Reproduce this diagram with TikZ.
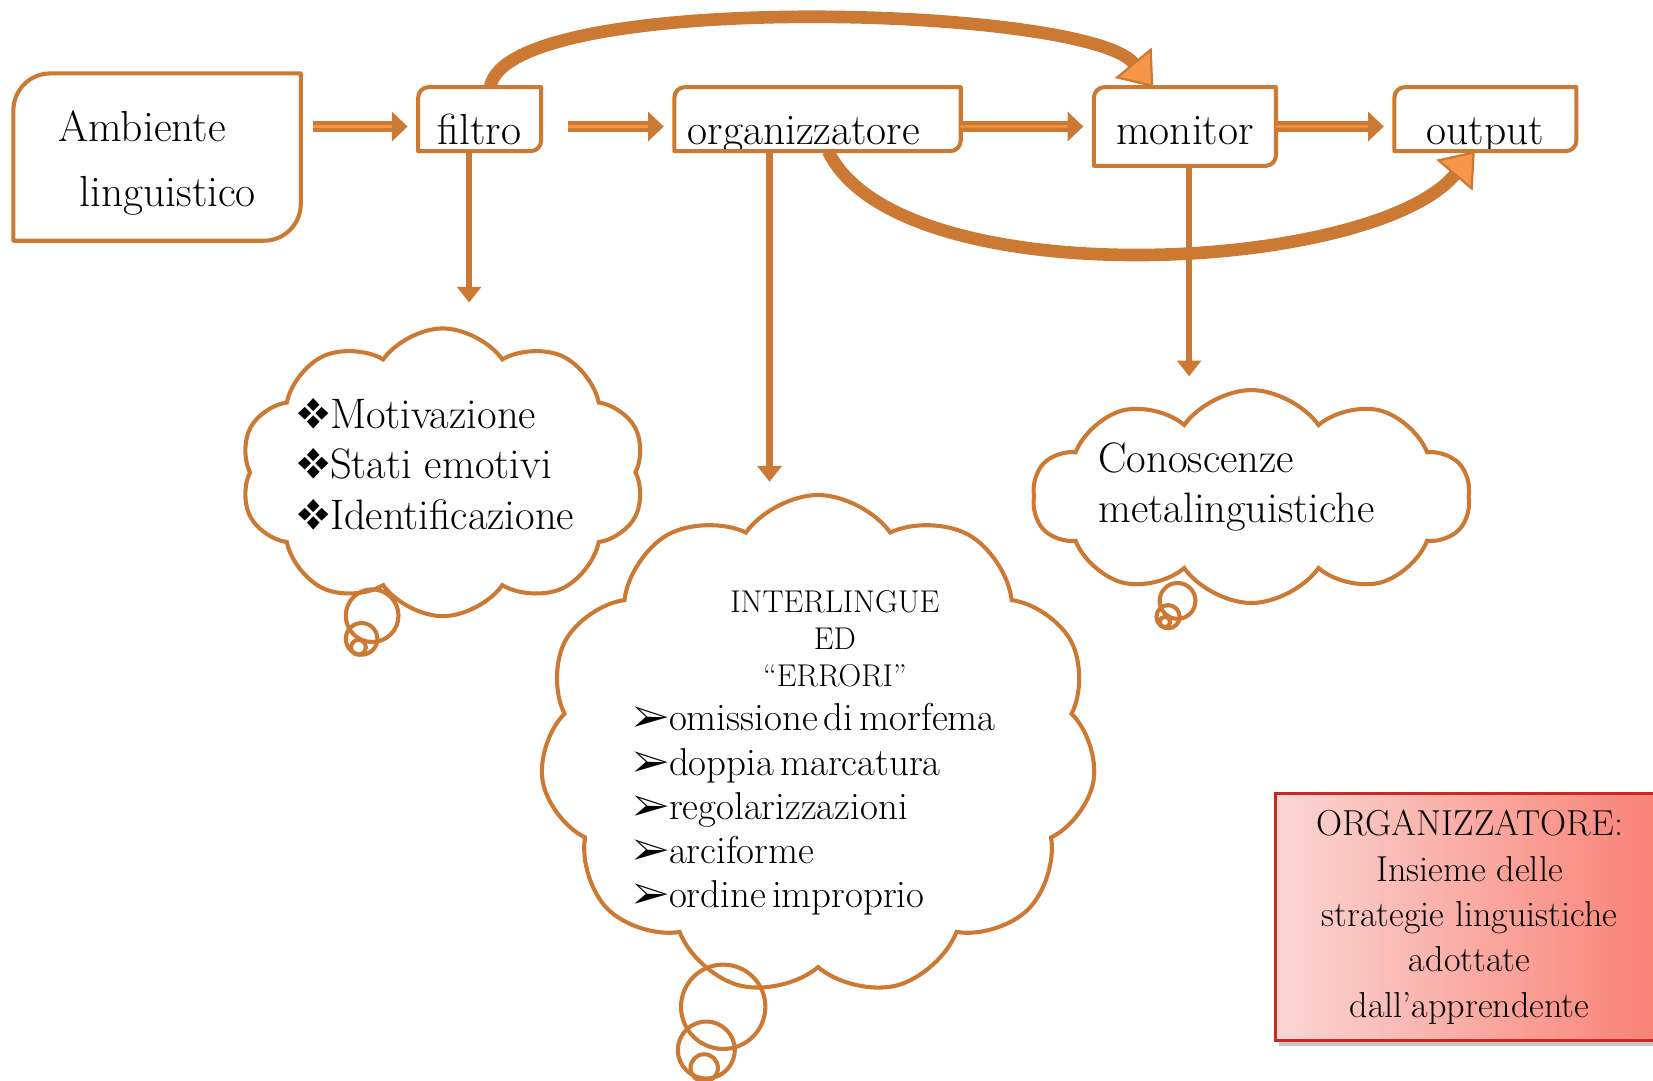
\documentclass[tikz,border=0pt]{standalone}
\usepackage{fontspec}
\usepackage{pifont}
\usetikzlibrary{arrows.meta,positioning,shapes.symbols,shadows}
\definecolor{boxorange}{RGB}{204,121,52}
\definecolor{lightorange}{RGB}{247,150,70}
\definecolor{redline}{RGB}{196,44,32}
\definecolor{pinkleft}{RGB}{251,214,212}
\definecolor{salmonright}{RGB}{248,128,116}
\tikzset{
  boxline/.style={draw=boxorange, line width=2.2pt, line join=round},
  stage/.style={inner sep=0pt, text height=1.08cm, text depth=0.12cm, minimum height=1.2cm,
    font=\fontsize{23.5}{28}\selectfont},
  flow/.style={draw=boxorange, line width=0.2cm, -{Triangle[length=0.3cm,width=0.55cm]},
    shorten <=0.24cm, shorten >=0.2cm,
    postaction={draw=lightorange, line width=1.2pt, -, shorten >=0.5cm}},
  dropline/.style={draw=boxorange, line width=0.12cm, -{Triangle[length=0.3cm,width=0.45cm]}},
  arcarrow/.style={draw=boxorange, line width=0.24cm,
    -{Triangle[length=0.6cm,width=0.9cm,fill=lightorange,line width=1.2pt]}},
  thought/.style={cloud, cloud puff arc=110, cloud ignores aspect, draw=boxorange,
    line width=2.2pt, inner sep=0pt},
  bubble/.style={draw=boxorange, line width=2.2pt},
  defbox/.style={draw=redline, line width=1.5pt, left color=pinkleft, right color=salmonright,
    align=center, font=\fontsize{19.5}{24.5}\selectfont,
    drop shadow={opacity=0.45, shadow xshift=0.06cm, shadow yshift=-0.1cm}}
}
\newcommand{\stageframe}[2]{\draw[boxline] (#1.south west) -- ([yshift=-#2]#1.north west)
  arc[start angle=180,end angle=90,radius=#2] -- (#1.north east) -- ([yshift=#2]#1.south east)
  arc[start angle=0,end angle=-90,radius=#2] -- cycle;}

\begin{document}
\begin{tikzpicture}[x=0.02cm,y=0.02cm]
\useasboundingbox (0,0) rectangle (1568,-1025);

\node[inner sep=0pt, minimum width=5.44cm, minimum height=3.16cm, align=left,
  font=\fontsize{23.5}{35}\selectfont] (amb) at (149,-149)
  {\rule{0pt}{0.8cm}Ambiente\\\hspace*{0.4cm}linguistico};
\node[stage, minimum width=2.32cm] (filtro) at (455,-113) {filtro};
\node[stage, minimum width=5.42cm] (org) at (775.5,-113) {organizzatore\hspace*{0.52cm}};
\node[stage, minimum width=3.44cm, text depth=0.4cm, minimum height=1.48cm] (monitor) at (1124,-120) {monitor};
\node[stage, minimum width=3.44cm] (output) at (1409,-113) {output};

\stageframe{amb}{0.7cm}
\stageframe{filtro}{0.2cm}
\stageframe{org}{0.2cm}
\stageframe{monitor}{0.2cm}
\stageframe{output}{0.2cm}

\draw[flow] ([yshift=-0.14cm]filtro.west -| amb.east) -- ([yshift=-0.14cm]filtro.west);
\draw[flow, shorten <=0.5cm] ([yshift=-0.14cm]filtro.east) -- ([yshift=-0.14cm]org.west);
\draw[flow, shorten <=0pt] ([yshift=-0.14cm]org.east) -- (monitor.west);
\draw[flow, shorten <=0pt] (monitor.east) -- ([yshift=-0.14cm]output.west);

% feedback arcs
\draw[arcarrow] ([xshift=0.2cm]filtro.north) .. controls (480,10) and (1030,-5) .. ([xshift=-0.6cm]monitor.north);
\draw[arcarrow] ([xshift=0.2cm]org.south) .. controls (852,-282) and (1300,-260) .. ([xshift=-0.2cm]output.south);

\node[thought, cloud puffs=10, minimum width=7.68cm, minimum height=5.46cm] (motivCloud) at (420,-448) {};
\node[thought, cloud puffs=11, minimum width=10.56cm, minimum height=9.5cm] (errCloud) at (776,-707) {};
\node[thought, cloud puffs=10, minimum width=8.3cm, minimum height=4.04cm] (metaCloud) at (1187,-471) {};

\draw[bubble] (353,-584) circle[radius=0.5cm];
\draw[bubble] (343,-606) circle[radius=0.3cm];
\draw[bubble] (340,-614) circle[radius=0.14cm];
\draw[bubble] (686,-955) circle[radius=0.8cm];
\draw[bubble] (670,-996) circle[radius=0.54cm];
\draw[bubble] (668,-1013) circle[radius=0.26cm];
\draw[bubble] (1117,-570) circle[radius=0.34cm];
\draw[bubble] (1108,-585) circle[radius=0.22cm];
\draw[bubble] (1105,-590) circle[radius=0.1cm];

\coordinate (motivTip) at (445,-287);
\coordinate (errTip) at (730,-457);
\coordinate (metaTip) at (1128,-357);
\draw[dropline] (filtro.south -| motivTip) -- (motivTip);
\draw[dropline] (org.south -| errTip) -- (errTip);
\draw[dropline] (monitor.south -| metaTip) -- (metaTip);

\node[align=left, inner sep=0pt, font=\fontsize{23}{27.3}\selectfont] (motivText) at (413,-440)
  {\ding{118}Motivazione\\\ding{118}Stati emotivi\\\ding{118}Identificazione};
\node[text width=6.9cm, align=left, inner sep=0pt] (errText) at (773,-714.5)
  {{\centering\fontsize{17}{19.9}\selectfont
    \hspace*{0.76cm}INTERLINGUE\\\hspace*{0.76cm}ED\\\hspace*{0.76cm}“ERRORI”\par}%
   \fontsize{21}{23.9}\selectfont
   \ding{226}omissione di morfema\\\ding{226}doppia marcatura\\\ding{226}regolarizzazioni\\
   \ding{226}arciforme\\\ding{226}ordine improprio\par};
\node[align=left, inner sep=0pt, font=\fontsize{23}{26.7}\selectfont] (metaText) at (1173,-462)
  {Conoscenze\\metalinguistiche};

\node[defbox, minimum width=7.36cm, minimum height=4.68cm] (orgNote) at (1394,-870)
  {ORGANIZZATORE:\\Insieme delle\\strategie linguistiche\\adottate\\dall’apprendente};
\end{tikzpicture}
\end{document}
